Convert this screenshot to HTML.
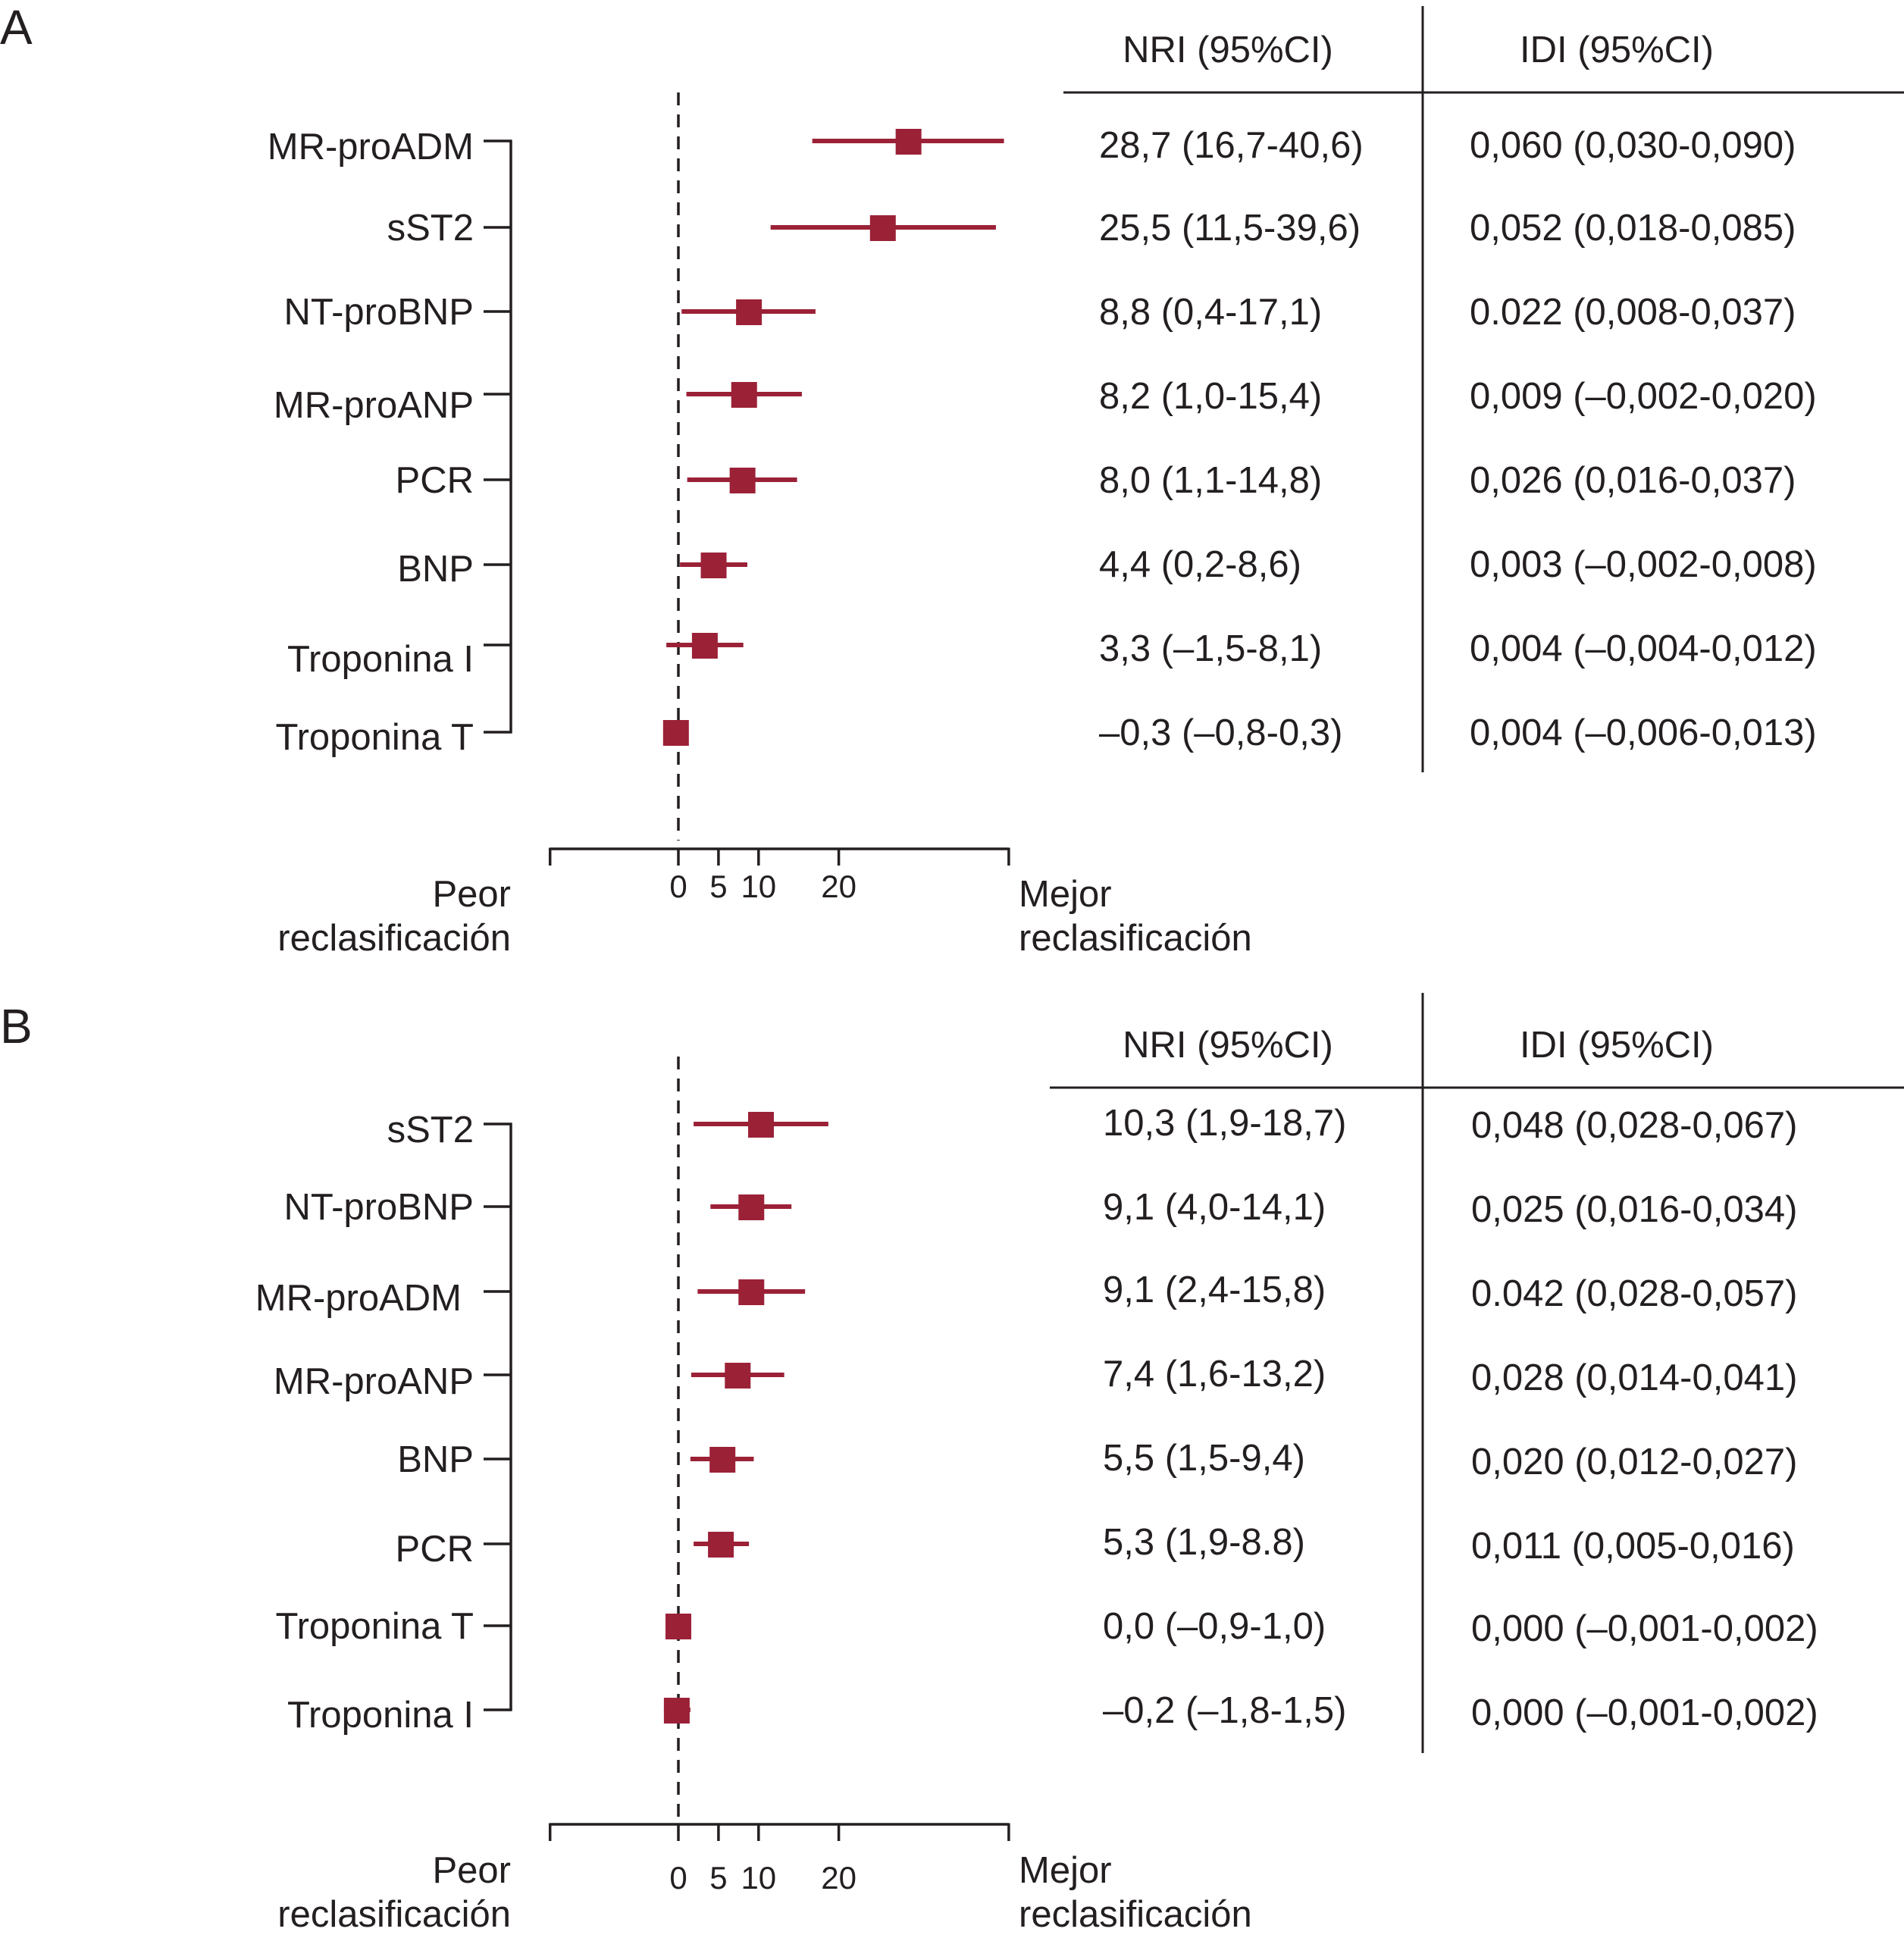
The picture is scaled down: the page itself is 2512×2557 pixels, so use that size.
<!DOCTYPE html>
<html><head><meta charset="utf-8">
<style>
html,body{margin:0;padding:0;background:#fff;}
svg{display:block;}
text{font-family:"Liberation Sans",sans-serif;fill:#231f20;}
</style></head>
<body>
<svg id="chart" width="2512" height="2557" viewBox="0 0 2512 2557" xmlns="http://www.w3.org/2000/svg">
</svg>
<script>
// ---- Data ----
const labelsA = ["MR-proADM","sST2","NT-proBNP","MR-proANP","PCR","BNP","Troponina I","Troponina T"];
const nriA = [28.7,25.5,8.8,8.2,8.0,4.4,3.3,-0.3];
const loA = [16.7,11.5,0.4,1.0,1.1,0.2,-1.5,-0.8];
const hiA = [40.6,39.6,17.1,15.4,14.8,8.6,8.1,0.3];
const nriTextA = ["28,7 (16,7-40,6)","25,5 (11,5-39,6)","8,8 (0,4-17,1)","8,2 (1,0-15,4)","8,0 (1,1-14,8)","4,4 (0,2-8,6)","3,3 (\u20131,5-8,1)","\u20130,3 (\u20130,8-0,3)"];
const idiTextA = ["0,060 (0,030-0,090)","0,052 (0,018-0,085)","0.022 (0,008-0,037)","0,009 (\u20130,002-0,020)","0,026 (0,016-0,037)","0,003 (\u20130,002-0,008)","0,004 (\u20130,004-0,012)","0,004 (\u20130,006-0,013)"];

const labelsB = ["sST2","NT-proBNP","MR-proADM","MR-proANP","BNP","PCR","Troponina T","Troponina I"];
const nriB = [10.3,9.1,9.1,7.4,5.5,5.3,0.0,-0.2];
const loB = [1.9,4.0,2.4,1.6,1.5,1.9,-0.9,-1.8];
const hiB = [18.7,14.1,15.8,13.2,9.4,8.8,1.0,1.5];
const nriTextB = ["10,3 (1,9-18,7)","9,1 (4,0-14,1)","9,1 (2,4-15,8)","7,4 (1,6-13,2)","5,5 (1,5-9,4)","5,3 (1,9-8.8)","0,0 (\u20130,9-1,0)","\u20130,2 (\u20131,8-1,5)"];
const idiTextB = ["0,048 (0,028-0,067)","0,025 (0,016-0,034)","0.042 (0,028-0,057)","0,028 (0,014-0,041)","0,020 (0,012-0,027)","0,011 (0,005-0,016)","0,000 (\u20130,001-0,002)","0,000 (\u20130,001-0,002)"];

const tickVals = [0,5,10,20];
const tickLabels = ["0","5","10","20"];
const axisMin = -16, axisMax = 41.2;

// ---- Scales ----
const X0 = 895, PX = 10.58;
function xs(v){ return X0 + PX*v; }

const NS = "http://www.w3.org/2000/svg";
const svg = document.getElementById("chart");
const RED = "#9b2137", INK = "#231f20";

function el(tag, attrs, parent){
  const e = document.createElementNS(NS, tag);
  for (const k in attrs) e.setAttribute(k, attrs[k]);
  (parent||svg).appendChild(e);
  return e;
}
function txt(str, x, y, size, anchor, parent){
  const t = el("text", {x:x, y:y, "font-size":size, "text-anchor":anchor||"start"}, parent);
  t.textContent = str;
  return t;
}

function panel(cfg){
  const g = el("g", {});
  
  
  const L = txt(cfg.letter, 0, cfg.letterY, 64, "start", g);
  
  
  const h1 = txt("NRI (95%CI)", 1620, cfg.headY, 49, "middle", g);
  
  
  const h2 = txt("IDI (95%CI)", 2133, cfg.headY, 49, "middle", g);
  
  
  const hl = el("line", {x1:cfg.hLineX, x2:2512, y1:cfg.hLineY, y2:cfg.hLineY, stroke:INK, "stroke-width":3}, g);
  
  
  const vl = el("line", {x1:1877, x2:1877, y1:cfg.vLineY1, y2:cfg.vLineY2, stroke:INK, "stroke-width":3}, g);
  
  
  const dz = el("line", {x1:X0, x2:X0, y1:cfg.dashY1, y2:cfg.dashY2, stroke:INK, "stroke-width":3.5, "stroke-dasharray":"17,12"}, g);
  
  
  const rows = cfg.rows;
  const br = el("line", {x1:674, x2:674, y1:rows[0]-1.5, y2:rows[rows.length-1]+1.5, stroke:INK, "stroke-width":3.5}, g);
  
  
  for (let i=0;i<cfg.labels.length;i++){
    const y = rows[i];
    const tk = el("line", {x1:638, x2:675, y1:y, y2:y, stroke:INK, "stroke-width":3.5}, g);
    
    
    const lb = txt(cfg.labels[i], cfg.labelX[i]||625, y + 17 + (cfg.labelDy[i]||0), 49, "end", g);
    
    
    const ci = el("line", {x1:xs(cfg.lo[i]), x2:xs(cfg.hi[i]), y1:y, y2:y, stroke:RED, "stroke-width":6}, g);
    
    
    const s = 34;
    const bx = el("rect", {x:xs(cfg.val[i])-s/2, y:y-s/2+1, width:s, height:s, fill:RED}, g);
    
    
    const nt = txt(cfg.nriText[i], cfg.nriX, cfg.nriY[i]+17, 49, "start", g);
    
    
    const it = txt(cfg.idiText[i], cfg.idiX, cfg.idiY[i]+17, 49, "start", g);
    
    
  }
  const ay = cfg.axisY;
  const ax = el("line", {x1:xs(axisMin), x2:xs(axisMax), y1:ay, y2:ay, stroke:INK, "stroke-width":3.5}, g);
  
  
  [axisMin, axisMax].forEach(v=>{
    const e = el("line", {x1:xs(v), x2:xs(v), y1:ay-1.5, y2:ay+22, stroke:INK, "stroke-width":3.5}, g);
    
    
  });
  tickVals.forEach((v,i)=>{
    const t = el("line", {x1:xs(v), x2:xs(v), y1:ay, y2:ay+22, stroke:INK, "stroke-width":3.5}, g);
    
    
    const tl = txt(tickLabels[i], xs(v), ay+cfg.tickDy, 42, "middle", g);
    
    
  });
  const p1 = txt("Peor", 674, cfg.peorY, 49, "end", g);
  
  
  const p2 = txt("reclasificación", 674, cfg.peorY+58, 49, "end", g);
  
  
  const m1 = txt("Mejor", 1344, cfg.peorY, 49, "start", g);
  
  
  const m2 = txt("reclasificación", 1344, cfg.peorY+58, 49, "start", g);
  
  
}

panel({
  name:"panel-a", letter:"A", letterY:58, headY:82, hLineX:1403, hLineY:122, vLineY1:8, vLineY2:1019,
  dashY1:122, dashY2:1109, rows:[186,300,411,520,633,745,851,966],
  labelDy:[7,0,0,14,0,5,18,6], labelX:[],
  labels:labelsA, val:nriA, lo:loA, hi:hiA, nriText:nriTextA, idiText:idiTextA,
  nriX:1450, idiX:1939,
  nriY:[191,300,411,522,633,744,855,966], idiY:[191,300,411,522,633,744,855,966],
  axisY:1120, tickDy:64, peorY:1196
});
panel({
  name:"panel-b", letter:"B", letterY:1376, headY:1395, hLineX:1385, hLineY:1435, vLineY1:1310, vLineY2:2313,
  dashY1:1394, dashY2:2398, rows:[1483,1592,1704,1814,1925,2037,2145,2256],
  labelDy:[7,0,8,8,0,6,0,6], labelX:[0,0,609],
  labels:labelsB, val:nriB, lo:loB, hi:hiB, nriText:nriTextB, idiText:idiTextB,
  nriX:1455, idiX:1941,
  nriY:[1481,1592,1701,1812,1923,2034,2145,2256], idiY:[1484,1595,1706,1817,1928,2039,2148,2259],
  axisY:2407, tickDy:85, peorY:2484
});
</script>
</body></html>
